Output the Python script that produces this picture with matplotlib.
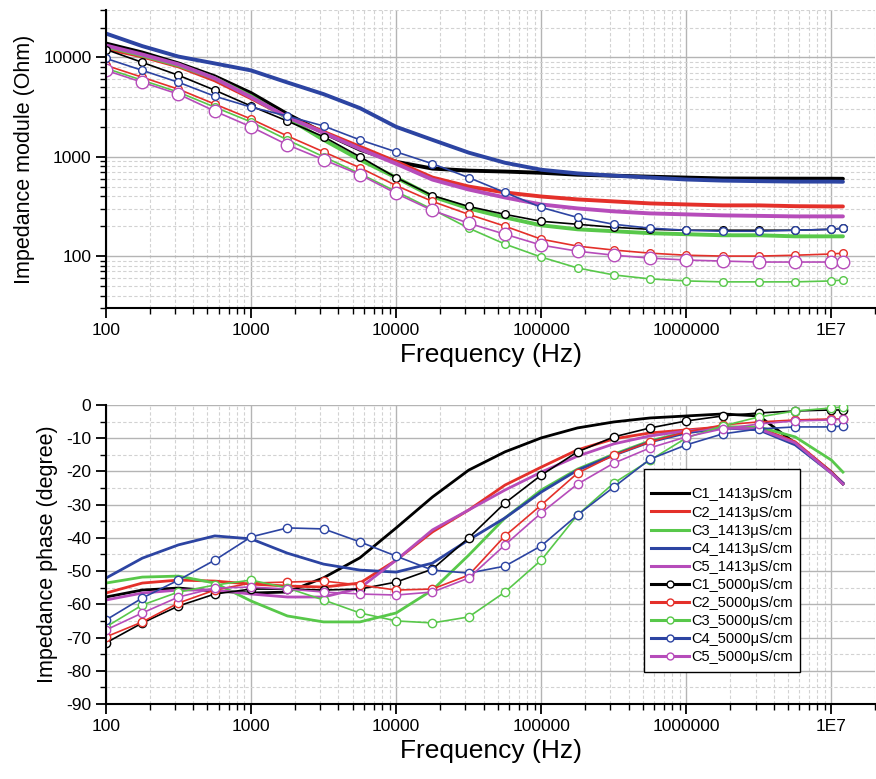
import matplotlib
matplotlib.use('Agg')
import matplotlib.pyplot as plt
from matplotlib.lines import Line2D
from matplotlib.ticker import LogLocator, NullFormatter, MultipleLocator

plt.rcParams['font.family'] = ['Liberation Sans', 'DejaVu Sans']
plt.rcParams['axes.unicode_minus'] = False

# Frequencies where the curves were read (Hz)
freq = [100, 178, 316, 562, 1000, 1778, 3162, 5623, 10000, 17783, 31623, 56234,
        100000, 177828, 316228, 562341, 1000000, 1778279, 3162278, 5623413, 10000000, 12000000]

# Impedance module (Ohm)
z_c1_1413 = [13800, 11200, 8700, 6450, 4370, 2690, 1740, 1180, 890, 760, 725, 710, 690, 660, 645, 630, 617, 605, 603, 602, 601, 600]
z_c2_1413 = [12300, 10230, 8130, 5890, 3890, 2510, 1780, 1260, 890, 617, 501, 437, 398, 372, 355, 339, 331, 324, 324, 318, 316, 316]
z_c3_1413 = [12880, 10470, 8320, 6170, 4070, 2455, 1480, 933, 617, 398, 302, 245, 204, 186, 178, 170, 166, 162, 162, 158, 158, 158]
z_c4_1413 = [17400, 13000, 10200, 8700, 7400, 5600, 4270, 3090, 2000, 1480, 1100, 870, 740, 680, 645, 617, 590, 575, 568, 562, 562, 560]
z_c5_1413 = [13180, 10700, 8510, 6170, 3980, 2510, 1740, 1200, 851, 589, 468, 389, 331, 302, 282, 269, 263, 257, 254, 251, 251, 251]
z_c1_5000 = [12020, 8910, 6610, 4680, 3240, 2290, 1590, 1000, 617, 407, 316, 263, 224, 209, 195, 186, 182, 182, 182, 182, 186, 191]
z_c2_5000 = [8320, 6310, 4790, 3390, 2400, 1620, 1120, 776, 513, 355, 263, 200, 148, 126, 115, 107, 102, 100, 100, 102, 105, 107]
z_c3_5000 = [7760, 5890, 4470, 3160, 2240, 1480, 1000, 676, 447, 295, 191, 132, 97.7, 75.9, 64.6, 58.9, 56.2, 55.0, 55.0, 55.0, 56.2, 57.5]
z_c4_5000 = [9770, 7410, 5620, 4070, 3160, 2570, 2040, 1480, 1120, 851, 617, 437, 309, 245, 209, 191, 182, 178, 178, 182, 186, 191]
z_c5_5000 = [7410, 5620, 4270, 2880, 2000, 1320, 933, 661, 427, 288, 214, 166, 129, 112, 102, 95.5, 91.2, 89.1, 87.1, 87.1, 87.1, 87.1]

# Impedance phase (degree)
p_c1_1413 = [-57.8, -55.7, -55.1, -56.0, -56.6, -56.3, -52.0, -46.0, -37.0, -27.7, -19.6, -14.1, -9.9, -6.9, -5.1, -3.9, -3.3, -2.7, -3.3, -11.5, -20.2, -23.8]
p_c2_1413 = [-56.6, -53.6, -52.7, -53.0, -53.9, -54.5, -54.8, -53.6, -46.7, -38.2, -31.6, -24.1, -18.7, -13.5, -10.2, -8.4, -7.5, -6.6, -6.9, -11.1, -20.2, -23.5]
p_c3_1413 = [-53.6, -51.8, -51.5, -53.6, -59.0, -63.5, -65.3, -65.3, -62.6, -55.7, -45.2, -34.0, -25.6, -19.3, -14.8, -10.8, -8.1, -6.6, -6.6, -9.6, -16.6, -20.2]
p_c4_1413 = [-52.1, -46.1, -42.1, -39.4, -40.3, -44.6, -47.9, -49.7, -50.3, -47.6, -40.6, -34.0, -26.2, -19.6, -15.1, -11.1, -8.4, -6.9, -7.5, -12.0, -20.5, -23.5]
p_c5_1413 = [-58.7, -56.6, -55.7, -55.7, -56.9, -57.8, -57.8, -55.1, -46.7, -37.6, -31.6, -25.6, -20.2, -15.4, -11.7, -9.3, -7.8, -6.9, -7.2, -11.4, -20.5, -23.8]
p_c1_5000 = [-71.6, -65.6, -60.5, -56.9, -55.4, -55.4, -55.7, -55.4, -53.3, -49.4, -40.0, -29.5, -21.1, -14.1, -9.6, -6.9, -4.8, -3.3, -2.4, -1.8, -1.5, -1.5]
p_c2_5000 = [-69.8, -65.3, -59.6, -55.7, -53.6, -53.3, -53.0, -54.2, -55.7, -55.4, -51.2, -39.4, -30.1, -20.5, -15.1, -11.1, -8.1, -6.0, -5.1, -4.5, -4.2, -4.2]
p_c3_5000 = [-66.8, -60.2, -56.3, -54.2, -52.7, -55.1, -58.7, -62.6, -65.0, -65.6, -63.8, -56.3, -46.7, -33.1, -23.5, -16.6, -9.9, -6.3, -3.6, -1.8, -0.9, -0.6]
p_c4_5000 = [-64.7, -58.1, -52.7, -46.7, -39.7, -37.0, -37.3, -41.2, -45.5, -49.7, -50.6, -48.5, -42.4, -33.1, -24.7, -16.3, -12.0, -8.7, -7.2, -6.6, -6.6, -6.3]
p_c5_5000 = [-67.7, -62.6, -57.8, -55.1, -54.8, -55.4, -56.3, -56.9, -57.2, -56.3, -52.1, -42.1, -32.5, -23.8, -17.5, -12.9, -9.6, -7.2, -5.7, -4.8, -4.5, -4.2]

names = ['C1', 'C2', 'C3', 'C4', 'C5']
colors = ['#000000', '#e4302a', '#58c84a', '#2c44a2', '#b64cba']
z_solid = [z_c1_1413, z_c2_1413, z_c3_1413, z_c4_1413, z_c5_1413]
z_mark = [z_c1_5000, z_c2_5000, z_c3_5000, z_c4_5000, z_c5_5000]
p_solid = [p_c1_1413, p_c2_1413, p_c3_1413, p_c4_1413, p_c5_1413]
p_mark = [p_c1_5000, p_c2_5000, p_c3_5000, p_c4_5000, p_c5_5000]

xticks = [1e2, 1e3, 1e4, 1e5, 1e6, 1e7]
xticklabels = ['100', '1000', '10000', '100000', '1000000', '1E7']

fig = plt.figure(figsize=(8.76, 7.79), dpi=100)
ax1 = fig.add_axes([0.121, 0.6046, 0.878, 0.3825])
ax2 = fig.add_axes([0.121, 0.0963, 0.878, 0.3838])


def style_axis(ax):
    ax.set_xscale('log')
    ax.set_xlim(100, 2e7)
    ax.set_xticks(xticks)
    ax.set_xticklabels(xticklabels)
    ax.xaxis.set_minor_locator(LogLocator(base=10, subs=range(2, 10), numticks=20))
    ax.xaxis.set_minor_formatter(NullFormatter())
    ax.grid(True, which='major', color='#b4b4b4', lw=1.0, ls='-')
    ax.grid(True, which='minor', color='#d2d2d2', lw=0.8, ls=(0, (3, 2)))
    ax.set_axisbelow(True)
    for s in ['top', 'right']:
        ax.spines[s].set_visible(False)
    for s in ['left', 'bottom']:
        ax.spines[s].set_linewidth(1.5)
    ax.tick_params(which='major', direction='out', length=7, width=1.3, labelsize=12.5)
    ax.tick_params(which='minor', direction='out', length=4, width=1.0)
    ax.set_xlabel('Frequency (Hz)', fontsize=19, labelpad=4)


# 1. Impedance module
for i in range(5):
    ax1.plot(freq, z_solid[i], color=colors[i], lw=2.8, solid_capstyle='round')
for i in range(5):
    ms = 9 if i == 4 else 5.5
    ax1.plot(freq, z_mark[i], color=colors[i], lw=1.2, marker='o', ms=ms,
             mfc='white', mec=colors[i], mew=1.0)
style_axis(ax1)
ax1.set_yscale('log')
ax1.set_ylim(30, 30000)
ax1.set_yticks([100, 1000, 10000])
ax1.set_yticklabels(['100', '1000', '10000'])
ax1.yaxis.set_minor_locator(LogLocator(base=10, subs=range(2, 10), numticks=20))
ax1.yaxis.set_minor_formatter(NullFormatter())
ax1.set_ylabel('Impedance module (Ohm)', fontsize=15.5, labelpad=6)

# 2. Impedance phase
for i in range(5):
    ax2.plot(freq, p_solid[i], color=colors[i], lw=2.0)
for i in range(5):
    ax2.plot(freq, p_mark[i], color=colors[i], lw=1.2, marker='o', ms=6,
             mfc='white', mec=colors[i], mew=1.0)
style_axis(ax2)
ax2.set_ylim(-90, 0)
ax2.yaxis.set_major_locator(MultipleLocator(10))
ax2.yaxis.set_minor_locator(MultipleLocator(5))
ax2.set_ylabel('Impedance phase (degree)', fontsize=15.5, labelpad=6)

handles = []
labels = []
for i in range(5):
    handles.append(Line2D([], [], color=colors[i], lw=2.2))
    labels.append(names[i] + '_1413\u03bcS/cm')
for i in range(5):
    handles.append(Line2D([], [], color=colors[i], lw=2.2, marker='o', ms=5,
                          mfc='white', mec=colors[i], mew=1.0))
    labels.append(names[i] + '_5000\u03bcS/cm')
leg = ax2.legend(handles, labels, loc='upper left', bbox_to_anchor=(0.69, 0.81),
                 fontsize=10.5, frameon=True, fancybox=False, edgecolor='black',
                 framealpha=1, handlelength=2.6, handletextpad=0.15,
                 labelspacing=0.28, borderpad=0.5, title=' ', title_fontsize=5)
leg.get_frame().set_linewidth(1.0)

fig.savefig('out.png', dpi=100)
